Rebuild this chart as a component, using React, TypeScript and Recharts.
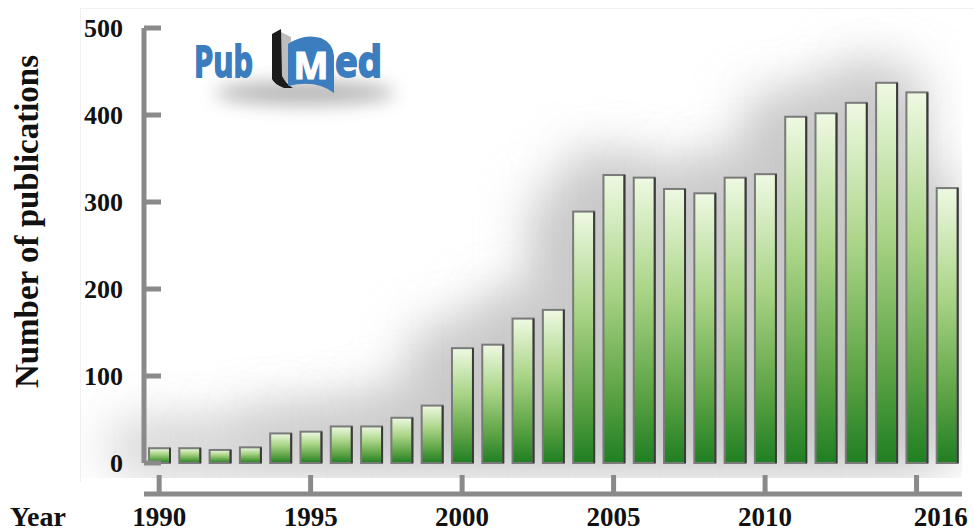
import { BarChart, Bar, XAxis, YAxis } from "recharts";

// publications per year (PubMed)
const years = [
  1990, 1991, 1992, 1993, 1994, 1995, 1996, 1997, 1998, 1999, 2000, 2001, 2002, 2003,
  2004, 2005, 2006, 2007, 2008, 2009, 2010, 2011, 2012, 2013, 2014, 2015, 2016,
];
const publications = [
  17, 17, 15, 18, 34, 36, 42, 42, 52, 66, 132, 136, 166, 176,
  289, 331, 328, 315, 310, 328, 332, 398, 402, 414, 437, 426, 316,
];
const yTicks = [0, 100, 200, 300, 400, 500];
const tickYears = [1990, 1995, 2000, 2005, 2010, 2015];
const labelYears = [1990, 1995, 2000, 2005, 2010, 2016];

const data = years.map((year, i) => ({ year, count: publications[i] }));

const AXIS_GREY = "#8a8a8a";
const SERIF = '"Liberation Serif", "Times New Roman", serif';
const SANS = '"Open Sans", Roboto, sans-serif';
const LOGO_BLUE = "#3b7dbf";

function YTick({ x, y, payload }: any) {
  return (
    <g>
      <rect x={x} y={y - 2.5} width={17} height={5} fill={AXIS_GREY} />
      <text
        x={x - 21}
        y={y}
        textAnchor="end"
        dominantBaseline="central"
        fontFamily={SERIF}
        fontWeight="bold"
        fontSize={26}
        fill="#111"
      >
        {payload.value}
      </text>
    </g>
  );
}

function XTick({ x, y, payload }: any) {
  const yr = payload.value;
  const last = yr === 2016;
  return (
    <g>
      {tickYears.includes(yr) && (
        <rect x={x - 2.5} y={y - 19} width={5} height={19} fill={AXIS_GREY} />
      )}
      {labelYears.includes(yr) && (
        <text
          x={last ? x + 21 : x}
          y={y + 32}
          textAnchor={last ? "end" : "middle"}
          fontFamily={SERIF}
          fontWeight="bold"
          fontSize={27}
          fill="#111"
        >
          {yr}
        </text>
      )}
    </g>
  );
}

function YLabel({ viewBox }: any) {
  const cx = 27;
  const cy = viewBox.y + viewBox.height / 2 - 24;
  return (
    <text
      x={cx}
      y={cy}
      transform={`rotate(-90 ${cx} ${cy})`}
      textAnchor="middle"
      dominantBaseline="central"
      fontFamily={SERIF}
      fontWeight="bold"
      fontSize={33}
      fill="#111"
    >
      Number of publications
    </text>
  );
}

function YearLabel({ viewBox }: any) {
  return (
    <text
      x={10}
      y={viewBox.y + 32}
      fontFamily={SERIF}
      fontWeight="bold"
      fontSize={28}
      fill="#111"
    >
      Year
    </text>
  );
}

function GreenBar({ x, y, width, height }: any) {
  if (!height || height <= 0) return null;
  return (
    <g>
      <rect
        x={x}
        y={y}
        width={width}
        height={height}
        fill="url(#barFill)"
        stroke="#7a7a7a"
        strokeWidth={2}
      />
      <line
        x1={x + width}
        y1={y}
        x2={x + width}
        y2={y + height}
        stroke="#3a3a3a"
        strokeWidth={2}
      />
    </g>
  );
}

// soft grey shadow cast to the upper left behind the bars
function ShadowBar({ x, y, width, height }: any) {
  if (!height || height <= 0) return null;
  return (
    <g clipPath="url(#shadowClip)">
      <rect
        x={x - 34}
        y={y - 16}
        width={width + 24}
        height={height + 16}
        fill="#c4c4c4"
        filter="url(#shadowBlur)"
      />
    </g>
  );
}

function PubMedLogo() {
  return (
    <svg
      width={974}
      height={140}
      style={{ position: "absolute", left: 0, top: 0, pointerEvents: "none" }}
    >
      <defs>
        <filter id="logoShadow" x="-30%" y="-100%" width="160%" height="300%">
          <feGaussianBlur stdDeviation="9" />
        </filter>
      </defs>
      <ellipse cx={305} cy={93} rx={90} ry={12} fill="#6e6e6e" opacity={0.5} filter="url(#logoShadow)" />
      <text
        x={194}
        y={77}
        fontFamily={SANS}
        fontWeight={700}
        fontSize={43}
        fill={LOGO_BLUE}
        stroke={LOGO_BLUE}
        strokeWidth={1.8}
        textLength={59}
        lengthAdjust="spacingAndGlyphs"
      >
        Pub
      </text>
      <path d="M 279 31 L 291 37 L 292 84 L 282 80 Z" fill="#bdbdbd" />
      <path d="M 272 34 L 281 29 L 282 76 Q 286 84 293 88 L 284 88 Q 274 84 272 79 Z" fill="#1b1b1b" />
      <path
        d="M 288 44 Q 304 33 321 38 Q 333 43 334 56 L 334 93 Q 316 79 288 86 Z"
        fill={LOGO_BLUE}
      />
      <text
        x={311}
        y={79}
        textAnchor="middle"
        fontFamily={SANS}
        fontWeight={700}
        fontSize={38}
        fill="#ffffff"
        stroke="#ffffff"
        strokeWidth={1.2}
        textLength={35}
        lengthAdjust="spacingAndGlyphs"
      >
        M
      </text>
      <text
        x={335}
        y={77}
        fontFamily={SANS}
        fontWeight={700}
        fontSize={43}
        fill={LOGO_BLUE}
        stroke={LOGO_BLUE}
        strokeWidth={1.8}
        textLength={47}
        lengthAdjust="spacingAndGlyphs"
      >
        ed
      </text>
    </svg>
  );
}

export default function App() {
  return (
    <div
      style={{
        position: "absolute",
        left: 0,
        top: 0,
        width: 974,
        height: 532,
        background: "#fff",
        overflow: "hidden",
      }}
    >
      <div
        style={{
          position: "absolute",
          left: 80,
          top: 8,
          width: 894,
          height: 474,
          borderTop: "1px solid #f0f0f0",
          borderLeft: "1px solid #f0f0f0",
          boxSizing: "border-box",
        }}
      />
      <BarChart
        width={974}
        height={532}
        data={data}
        margin={{ top: 28, right: 12, left: 0, bottom: 0 }}
        style={{ position: "absolute", left: 0, top: 0 }}
      >
        <defs>
          <linearGradient id="barFill" x1="0" y1="0" x2="0" y2="1">
            <stop offset="0%" stopColor="#eef9e2" />
            <stop offset="40%" stopColor="#a9d486" />
            <stop offset="75%" stopColor="#5ea446" />
            <stop offset="100%" stopColor="#1f7f22" />
          </linearGradient>
          <filter
            id="shadowBlur"
            filterUnits="userSpaceOnUse"
            x="0"
            y="0"
            width="974"
            height="532"
          >
            <feGaussianBlur stdDeviation="26" />
          </filter>
          <clipPath id="shadowClip">
            <rect x={80} y={8} width={882} height={470} />
          </clipPath>
        </defs>
        <XAxis
          xAxisId="bars"
          dataKey="year"
          height={31}
          axisLine={false}
          tickLine={false}
          tick={false}
        />
        <XAxis
          xAxisId="line"
          dataKey="year"
          height={38}
          interval={0}
          axisLine={{ stroke: AXIS_GREY, strokeWidth: 5 }}
          tickLine={false}
          tickSize={0}
          tickMargin={0}
          tick={<XTick />}
          label={<YearLabel />}
        />
        <XAxis xAxisId="shadow" dataKey="year" hide />
        <YAxis
          domain={[0, 500]}
          ticks={yTicks}
          width={144}
          axisLine={{ stroke: AXIS_GREY, strokeWidth: 5 }}
          tickLine={false}
          tickSize={0}
          tickMargin={0}
          tick={<YTick />}
          label={<YLabel />}
        />
        <Bar
          xAxisId="shadow"
          dataKey="count"
          barSize={30}
          shape={<ShadowBar />}
          isAnimationActive={false}
        />
        <Bar
          xAxisId="bars"
          dataKey="count"
          barSize={21}
          shape={<GreenBar />}
          isAnimationActive={false}
        />
      </BarChart>
      <PubMedLogo />
    </div>
  );
}
